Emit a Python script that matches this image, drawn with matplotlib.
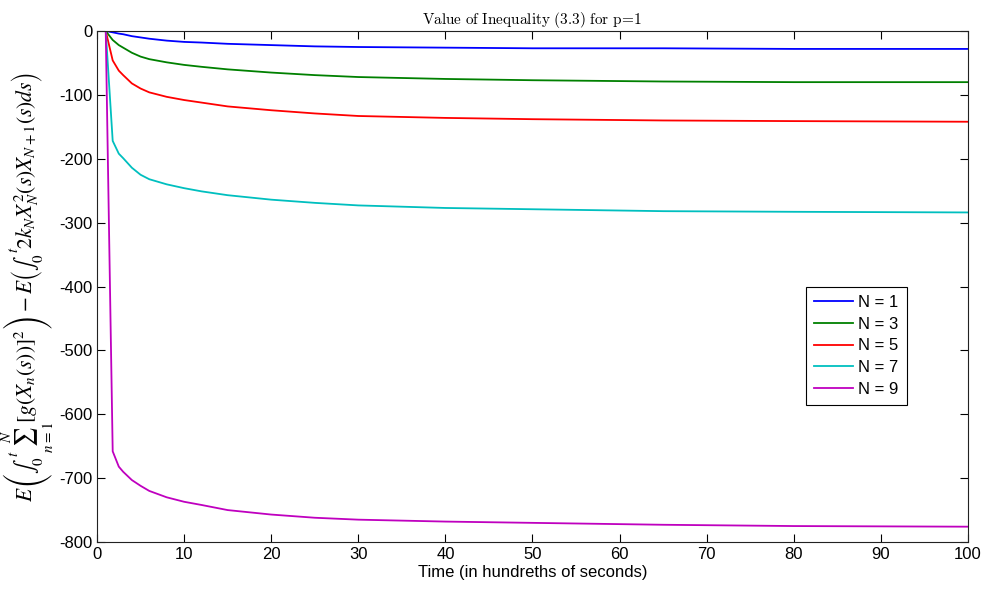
import matplotlib
matplotlib.use('Agg')
import matplotlib.pyplot as plt

plt.rcParams['font.family'] = ['Liberation Sans', 'DejaVu Sans']
plt.rcParams['mathtext.fontset'] = 'cm'
plt.rcParams['axes.unicode_minus'] = False

# time samples (hundredths of seconds)
t = [1, 1.8, 2.5, 3, 4, 5, 6, 8, 10, 12, 15, 20, 25, 30, 40, 50, 65, 80, 100]

n1 = [0, -2, -4, -5, -8, -10, -12, -15, -17, -18, -20, -22, -24, -25, -26, -27, -27, -28, -28]
n3 = [0, -14, -22, -26, -34, -40, -44, -49, -53, -56, -60, -65, -69, -72, -75, -77, -79, -80, -80]
n5 = [0, -46, -62, -69, -82, -90, -96, -103, -108, -112, -118, -124, -129, -133, -136, -138, -140, -141, -142]
n7 = [0, -172, -192, -199, -214, -225, -232, -240, -246, -251, -257, -264, -269, -273, -277, -279, -282, -283, -284]
n9 = [0, -658, -682, -690, -703, -712, -720, -730, -737, -742, -750, -757, -762, -765, -768, -770, -773, -775, -776]

series = [n1, n3, n5, n7, n9]
labels = ['N = 1', 'N = 3', 'N = 5', 'N = 7', 'N = 9']
colors = ['#0000ff', '#008000', '#ff0000', '#00bfbf', '#bf00bf']

fig = plt.figure(figsize=(9.87, 5.97), dpi=100)
ax = fig.add_axes([0.0983, 0.0921, 0.8824, 0.8559])

for y, lab, c in zip(series, labels, colors):
    ax.plot(t, y, color=c, lw=1.3, label=lab)

ax.set_xlim(0, 100)
ax.set_ylim(-800, 0)
ax.set_xticks(range(0, 101, 10))
ax.set_yticks(range(-800, 1, 100))
ax.tick_params(direction='in', top=True, right=True, length=6, labelsize=12, width=0.8)
for s in ax.spines.values():
    s.set_linewidth(0.8)
    s.set_color('#222222')

ax.set_xlabel('Time (in hundreths of seconds)', fontsize=12, labelpad=2)
ax.set_ylabel(r'$E\left(\int_0^{\,t}\sum_{n=1}^{N}[g(X_n(s))]^2\right)-E\left(\int_0^{\,t} 2k_N X_N^2(s)X_{N+1}(s)ds\right)$',
              fontsize=15.5, labelpad=2, math_fontfamily='stix')
ax.set_title(r'$\mathrm{Value\ of\ Inequality\ (3.3)\ for\ p\!=\!1}$', fontsize=11, pad=5)

leg = ax.legend(loc='lower left', bbox_to_anchor=(0.814, 0.268), fontsize=12,
                fancybox=False, edgecolor='black', framealpha=1,
                handlelength=2.3, borderpad=0.5, labelspacing=0.4, handletextpad=0.35,
                borderaxespad=0)
leg.get_frame().set_linewidth(0.8)

fig.savefig('out.png', dpi=100)
